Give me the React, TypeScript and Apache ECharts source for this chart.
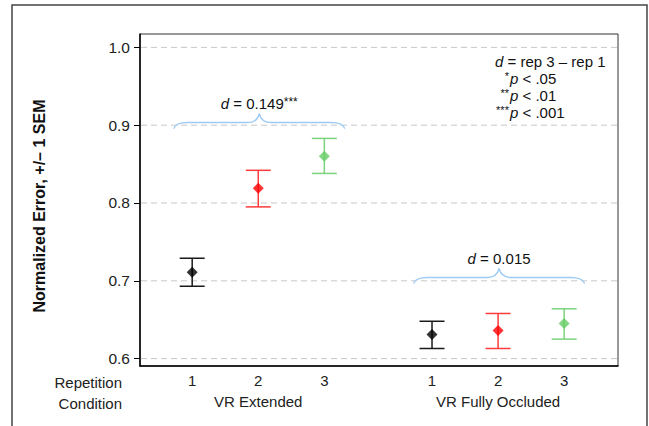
import React, { useEffect, useRef } from "react";
import * as echarts from "echarts";

const repLabels = ["1", "2", "3", "1", "2", "3"];
const xPositions = [1, 2, 3, 4.63, 5.63, 6.63];
const means = [0.711, 0.819, 0.86, 0.631, 0.636, 0.645];
const upperSEM = [0.729, 0.842, 0.883, 0.648, 0.658, 0.664];
const lowerSEM = [0.693, 0.795, 0.838, 0.613, 0.613, 0.625];
const repColorIdx = [0, 1, 2, 0, 1, 2];
const markerColors = ["#000000", "#ff0000", "#66cc66"];
const barColors = ["#1a1a1a", "#ff3b3b", "#7cd37c"];

const groupNames = ["VR Extended", "VR Fully Occluded"];
const groupCenters = [2, 5.63];

const yTicks = [0.6, 0.7, 0.8, 0.9, 1.0];

const braceStart = [0.72, 4.35];
const braceEnd = [3.31, 6.94];
const braceLevel = [0.9033, 0.7043];
const braceValues = ["0.149", "0.015"];
const braceStars = ["***", ""];

const legendStars = ["*", "**", "***"];
const legendThresholds = [".05", ".01", ".001"];

const FONT = "'Liberation Sans', Arial, Helvetica, sans-serif";

export default function App() {
  const ref = useRef<HTMLDivElement>(null);
  useEffect(() => {
    if (!ref.current) return;
    const chart = echarts.init(ref.current, undefined, { renderer: "svg" });

    const errData = xPositions.map((x, i) => [x, lowerSEM[i], upperSEM[i], repColorIdx[i]]);
    const pointData = xPositions.map((x, i) => ({
      value: [x, means[i]],
      itemStyle: { color: markerColors[repColorIdx[i]] },
    }));
    const braceData = braceStart.map((s, i) => [s, braceEnd[i], braceLevel[i], i]);

    const legendText = [
      "{i|d}{t| = rep 3 \u2013 rep 1}",
      ...legendStars.map((s, k) => `{s${k}|${s}}{i|p}{t| < ${legendThresholds[k]}}`),
    ].join("\n");

    const starW = 4.3;
    const starStyles: any = {};
    legendStars.forEach((s, k) => {
      starStyles["s" + k] = {
        fontSize: 11,
        fontFamily: FONT,
        fill: "#111",
        lineHeight: 11,
        verticalAlign: "top",
        padding: [0, 1, 0, Math.max(0, 14 - s.length * starW)],
      };
    });

    const option: any = {
      animation: false,
      textStyle: { fontFamily: FONT },
      grid: {
        left: 140,
        top: 34,
        right: 31,
        bottom: 60,
        show: true,
        borderColor: "#333",
        borderWidth: 1,
        backgroundColor: "transparent",
      },
      xAxis: [
        {
          type: "value",
          min: 0.21,
          max: 7.445,
          position: "bottom",
          axisLine: { show: true, onZero: false, lineStyle: { color: "#000", width: 1.5 } },
          axisTick: { show: false },
          splitLine: { show: false },
          axisLabel: {
            customValues: xPositions,
            formatter: (v: number) => {
              const idx = xPositions.findIndex((p) => Math.abs(p - v) < 1e-6);
              return idx >= 0 ? repLabels[idx] : "";
            },
            fontSize: 15,
            color: "#222",
            margin: 7,
            fontFamily: FONT,
          },
        },
        {
          type: "value",
          min: 0.21,
          max: 7.445,
          position: "bottom",
          offset: 21,
          axisLine: { show: false },
          axisTick: { show: false },
          splitLine: { show: false },
          axisLabel: {
            customValues: groupCenters,
            formatter: (v: number) => {
              const idx = groupCenters.findIndex((p) => Math.abs(p - v) < 1e-6);
              return idx >= 0 ? groupNames[idx] : "";
            },
            fontSize: 15,
            color: "#222",
            margin: 7,
            fontFamily: FONT,
          },
        },
      ],
      yAxis: {
        type: "value",
        min: 0.5905,
        max: 1.0172,
        axisLine: { show: true, onZero: false, lineStyle: { color: "#000", width: 1.5 } },
        axisTick: { show: true, customValues: yTicks, length: 6, lineStyle: { color: "#000" } },
        axisLabel: {
          customValues: yTicks,
          formatter: (v: number) => v.toFixed(1),
          fontSize: 15.5,
          color: "#222",
          margin: 10,
          fontFamily: FONT,
        },
        splitLine: { show: false },
      },
      series: [
        {
          type: "custom",
          name: "grid",
          xAxisIndex: 0,
          data: yTicks.map((t) => [t]),
          silent: true,
          z: 1,
          renderItem: (params: any, api: any) => {
            const y = api.value(0);
            const a = api.coord([0.21, y]);
            const b = api.coord([7.445, y]);
            return {
              type: "line",
              shape: { x1: a[0] + 1, y1: a[1], x2: b[0] - 1, y2: b[1] },
              style: { stroke: "#c8c8c8", lineWidth: 1, lineDash: [6, 4] },
            };
          },
        },
        {
          type: "custom",
          name: "err",
          xAxisIndex: 0,
          data: errData,
          z: 3,
          renderItem: (params: any, api: any) => {
            const x = api.value(0);
            const lo = api.coord([x, api.value(1)]);
            const hi = api.coord([x, api.value(2)]);
            const c = barColors[api.value(3)];
            const hw = 12.5;
            const st = { stroke: c, lineWidth: 1.5 };
            return {
              type: "group",
              children: [
                { type: "line", shape: { x1: lo[0], y1: lo[1], x2: hi[0], y2: hi[1] }, style: st },
                { type: "line", shape: { x1: hi[0] - hw, y1: hi[1], x2: hi[0] + hw, y2: hi[1] }, style: st },
                { type: "line", shape: { x1: lo[0] - hw, y1: lo[1], x2: lo[0] + hw, y2: lo[1] }, style: st },
              ],
            };
          },
        },
        {
          type: "scatter",
          name: "mean",
          xAxisIndex: 0,
          symbol: "diamond",
          symbolSize: [11, 11],
          data: pointData,
          z: 4,
        },
        {
          type: "custom",
          name: "brace",
          xAxisIndex: 0,
          data: braceData,
          z: 2,
          renderItem: (params: any, api: any) => {
            const a = api.coord([api.value(0), api.value(2)]);
            const b = api.coord([api.value(1), api.value(2)]);
            const i = api.value(3);
            const x0 = a[0];
            const x1 = b[0];
            const y = a[1];
            const xm = (x0 + x1) / 2;
            const d =
              `M ${x0} ${y + 6} Q ${x0 + 2} ${y} ${x0 + 14} ${y} ` +
              `L ${xm - 12} ${y} Q ${xm - 2} ${y} ${xm} ${y - 9} ` +
              `Q ${xm + 2} ${y} ${xm + 12} ${y} ` +
              `L ${x1 - 14} ${y} Q ${x1 - 2} ${y} ${x1} ${y + 6}`;
            return {
              type: "group",
              children: [
                {
                  type: "path",
                  shape: { pathData: d },
                  style: { fill: "none", stroke: "#9ecbf5", lineWidth: 1.5 },
                },
                {
                  type: "text",
                  x: xm,
                  y: y - 19,
                  style: {
                    text: `{i|d}{n| = ${braceValues[i]}}{s|${braceStars[i]}}`,
                    align: "center",
                    verticalAlign: "middle",
                    fontSize: 15,
                    fontFamily: FONT,
                    fill: "#111",
                    rich: {
                      i: { fontStyle: "italic", fontSize: 15, fontFamily: FONT, fill: "#111" },
                      n: { fontSize: 15, fontFamily: FONT, fill: "#111" },
                      s: { fontSize: 12, fontFamily: FONT, fill: "#111", verticalAlign: "top" },
                    },
                  },
                },
              ],
            };
          },
        },
      ],
      graphic: [
        {
          type: "rect",
          shape: { x: 12, y: 5, width: 635, height: 440 },
          style: { fill: "none", stroke: "#444", lineWidth: 1.5 },
          silent: true,
        },
        {
          type: "text",
          x: 39,
          y: 206,
          rotation: Math.PI / 2,
          style: {
            text: "Normalized Error, +/\u2013 1 SEM",
            fontSize: 16,
            fontWeight: "bold",
            fontFamily: FONT,
            fill: "#111",
            align: "center",
            verticalAlign: "middle",
          },
        },
        {
          type: "text",
          x: 122,
          y: 382,
          style: { text: "Repetition", fontSize: 15, fontFamily: FONT, fill: "#222", align: "right", verticalAlign: "middle" },
        },
        {
          type: "text",
          x: 122,
          y: 403,
          style: { text: "Condition", fontSize: 15, fontFamily: FONT, fill: "#222", align: "right", verticalAlign: "middle" },
        },
        {
          type: "text",
          x: 495,
          y: 53,
          style: {
            text: legendText,
            fontSize: 15,
            fontFamily: FONT,
            fill: "#111",
            align: "left",
            verticalAlign: "top",
            lineHeight: 17,
            rich: {
              i: { fontStyle: "italic", fontSize: 15, fontFamily: FONT, fill: "#111", lineHeight: 17 },
              t: { fontSize: 15, fontFamily: FONT, fill: "#111", lineHeight: 17 },
              ...starStyles,
            },
          },
        },
      ],
    };
    chart.setOption(option);
    return () => chart.dispose();
  }, []);
  return (
    <div
      ref={ref}
      style={{ position: "fixed", left: 0, top: 0, width: 649, height: 426, background: "#fff" }}
    />
  );
}
